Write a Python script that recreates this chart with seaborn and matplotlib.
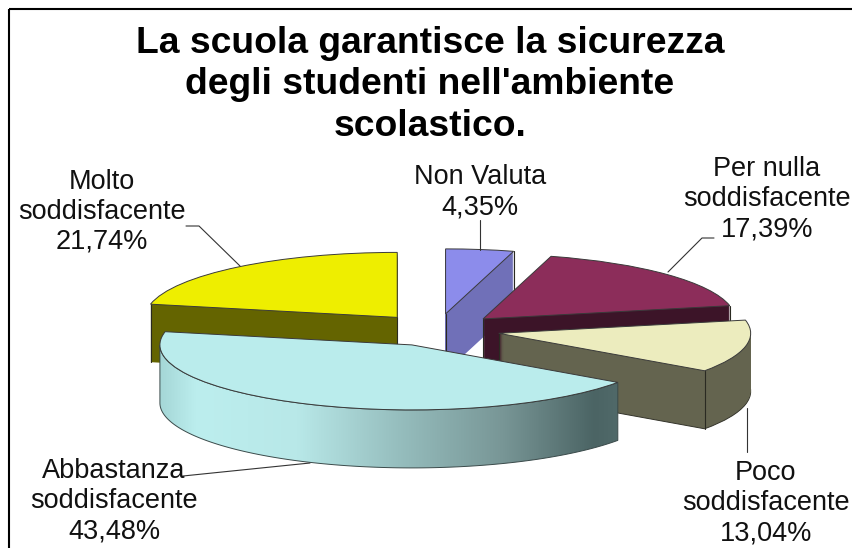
import numpy as np
import matplotlib
matplotlib.use('Agg')
import matplotlib.pyplot as plt
from matplotlib.colors import LinearSegmentedColormap
from matplotlib.patches import Polygon, Rectangle
import seaborn as sns

# Data (clockwise from 12 o'clock)
labels = ['Non Valuta', 'Per nulla\nsoddisfacente', 'Poco\nsoddisfacente', 'Abbastanza\nsoddisfacente', 'Molto\nsoddisfacente']
values = [4.35, 17.39, 13.04, 43.48, 21.74]
value_labels = ['4,35%', '17,39%', '13,04%', '43,48%', '21,74%']
top_colors = ['#8c8ceb', '#8c2d5a', '#ececbe', '#baecec', '#eeee00']
side_colors = ['#7070b8', '#3c1428', '#64644f', '#baecec', '#646400']
explode = [0.25] * 5
draw_order = [0, 1, 4, 2, 3]

# Layout in reference pixels
W, H = 853, 548
cx, cy = 437, 330
rx, ry, depth = 252, 65, 58
label_xy = [(480, 192), (767, 199), (766, 503), (114, 501), (102, 212)]
leaders = [([480, 480], [220, 250]),
           ([714, 702, 668], [238, 238, 272]),
           ([747, 747], [408, 452]),
           ([183, 310], [476, 463]),
           ([186, 199, 240], [226, 226, 266])]

sns.set_theme(style='white')
plt.rcParams['font.family'] = ['Liberation Sans', 'DejaVu Sans']

fig = plt.figure(figsize=(W / 100, H / 100), dpi=100, facecolor='white')
ax = fig.add_axes([0, 0, 1, 1])
overlay = fig.add_axes([0, 0, 1, 1], facecolor='none')

zorders = {s: 2 + 2 * i for i, s in enumerate(draw_order)}
pie_args = dict(explode=explode, startangle=90, counterclock=False)

# Side walls: the same pie repeated downwards, deepest first
for d in np.arange(depth, 0, -1):
    wedges, _ = ax.pie(values, colors=side_colors, center=(0, -d / ry),
                       wedgeprops=dict(linewidth=0), **pie_args)
    for i, w in enumerate(wedges):
        w.set_zorder(zorders[i])
        if i == 3:
            w.set_visible(False)
        if i == 2 and d == depth:
            w.set_linewidth(0.7)
            w.set_edgecolor('#33332a')

# Top faces
wedges, _ = ax.pie(values, colors=top_colors,
                   wedgeprops=dict(linewidth=0.7, edgecolor='#3a3a3a'), **pie_args)
for i, w in enumerate(wedges):
    w.set_zorder(zorders[i] + 1)
    if i == 3:
        continue
    x0, y0 = w.center
    # vertical edges at the apex and at the arc end facing the viewer
    a = np.radians(w.theta2 if i == 4 else w.theta1)
    for x, y in [(x0, y0), (x0 + np.cos(a), y0 + np.sin(a))]:
        ax.plot([x, x], [y, y - depth / ry], color='#2a2a22', lw=0.8, zorder=zorders[i] + 0.5)

# Shaded outer wall of the big slice, front half of the rim only
big = wedges[3]
t = np.radians(np.linspace(max(big.theta1 % 360, 180), big.theta2 % 360, 200))
arc_x = big.center[0] + np.cos(t)
arc_y = big.center[1] + np.sin(t)
wall = np.column_stack([np.r_[arc_x, arc_x[::-1]], np.r_[arc_y, arc_y[::-1] - depth / ry]])
wall_patch = Polygon(wall, closed=True, facecolor='none', edgecolor='#3a4a4a', lw=0.7, zorder=zorders[3] + 0.6)
ax.add_patch(wall_patch)
shade = LinearSegmentedColormap.from_list('wall', [(0, '#a5d7d7'), (0.08, '#bceeee'), (0.3, '#b8e8e8'),
                                                   (0.52, '#96bebe'), (0.75, '#789696'), (0.95, '#4b6464'), (1, '#506969')])
im = ax.imshow(np.linspace(0, 1, 256)[None, :], cmap=shade, aspect='auto', zorder=zorders[3] + 0.5,
               extent=(arc_x.min(), arc_x.max(), arc_y.min() - depth / ry, arc_y.max()))
im.set_clip_path(wall_patch)

ax.set_aspect('auto')
ax.set_xlim(-cx / rx, (W - cx) / rx)
ax.set_ylim((cy - H) / ry, cy / ry)
ax.axis('off')

# Overlay in pixel coordinates: frame, title, labels
overlay.set_xlim(0, W)
overlay.set_ylim(H, 0)
overlay.axis('off')
overlay.add_patch(Rectangle((9, 9), 880, 600, facecolor='none', edgecolor='black', lw=1.5))
overlay.text(430, 85, "La scuola garantisce la sicurezza\ndegli studenti nell'ambiente\nscolastico.",
             ha='center', va='center', fontsize=26.8, fontweight='bold', color='black', linespacing=1.255)
for lab, val, (x, y), (lx, ly) in zip(labels, value_labels, label_xy, leaders):
    overlay.plot(lx, ly, color='#333333', lw=0.8)
    overlay.text(x, y, lab + '\n' + val, ha='center', va='center', fontsize=19.5, color='#111111', linespacing=1.2)

fig.savefig('out.png', dpi=100)
